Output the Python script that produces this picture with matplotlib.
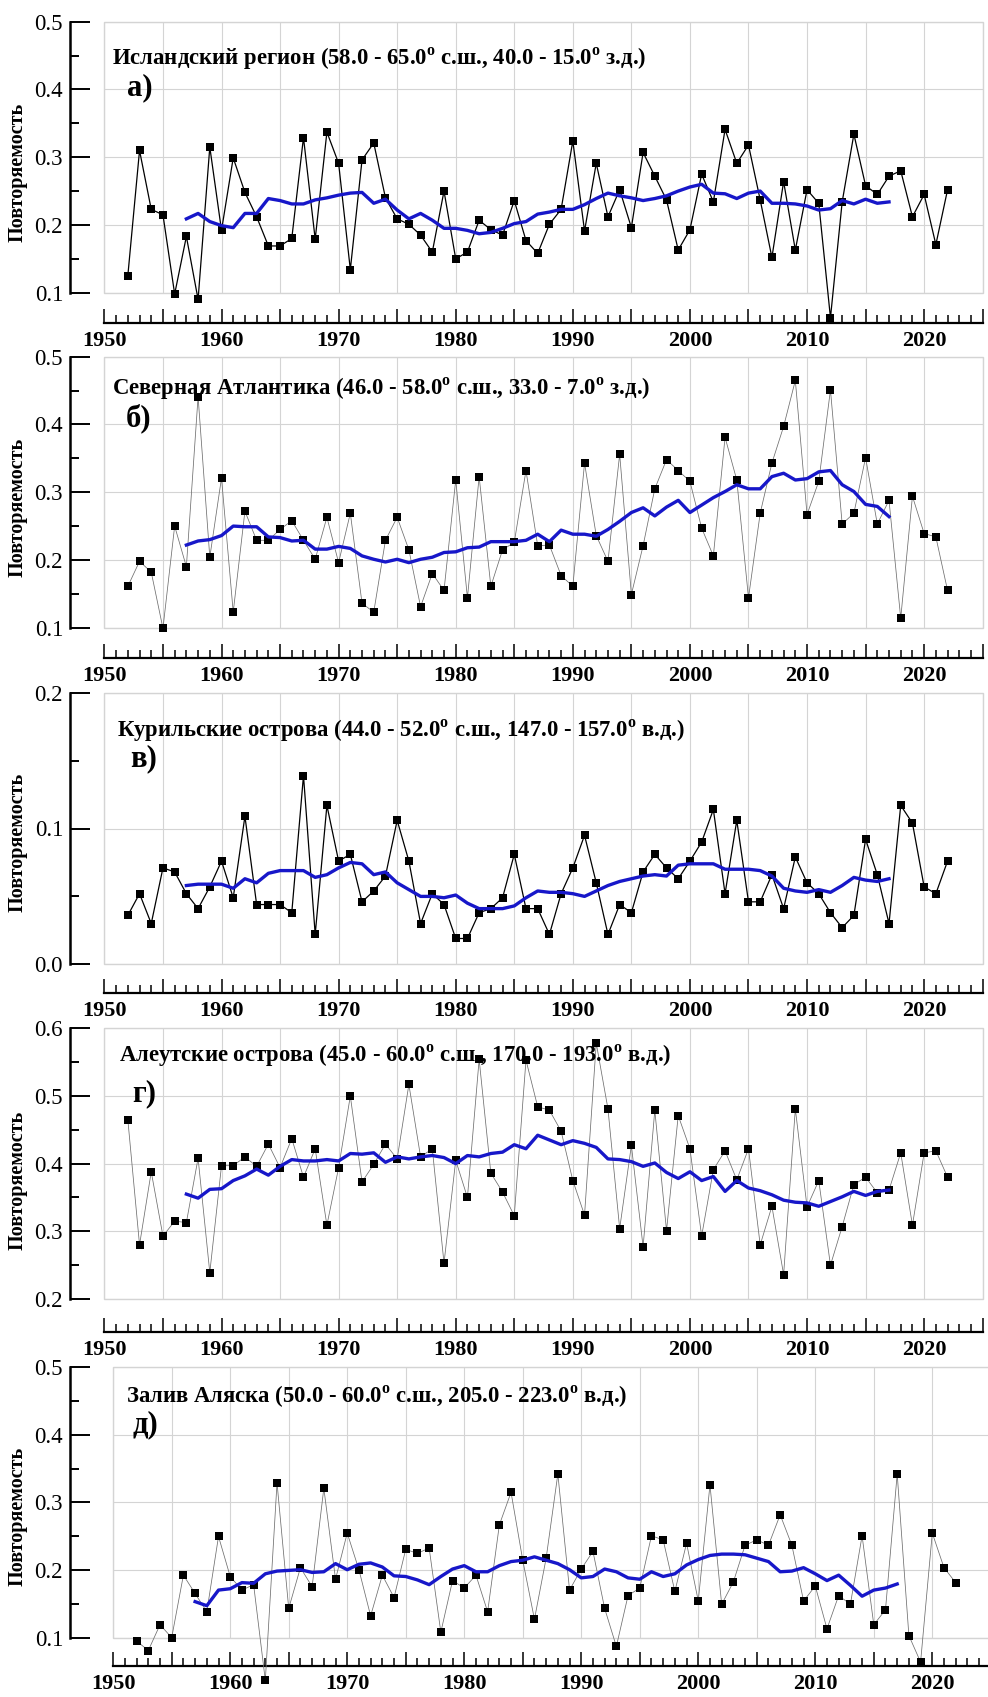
import numpy as np
import matplotlib
matplotlib.use("Agg")
import matplotlib.pyplot as plt
from matplotlib.ticker import MultipleLocator, FuncFormatter
from matplotlib.patches import Rectangle

plt.rcParams['font.family'] = ['Liberation Serif', 'DejaVu Serif']
plt.rcParams['mathtext.fontset'] = 'custom'
plt.rcParams['mathtext.rm'] = 'Liberation Serif'
plt.rcParams['mathtext.bf'] = 'Liberation Serif:bold'

years = np.arange(1952, 2023)
smooth_years = np.arange(1957, 2018)

iceland = [0.125, 0.310, 0.223, 0.215, 0.098, 0.183, 0.090, 0.315, 0.192, 0.299,
           0.248, 0.212, 0.169, 0.169, 0.180, 0.329, 0.179, 0.337, 0.291, 0.134,
           0.296, 0.321, 0.240, 0.209, 0.201, 0.185, 0.160, 0.250, 0.150, 0.160,
           0.207, 0.193, 0.185, 0.236, 0.177, 0.158, 0.201, 0.223, 0.324, 0.191,
           0.291, 0.212, 0.252, 0.196, 0.307, 0.272, 0.237, 0.163, 0.193, 0.275,
           0.234, 0.341, 0.291, 0.318, 0.237, 0.152, 0.264, 0.163, 0.252, 0.232,
           0.063, 0.234, 0.334, 0.258, 0.245, 0.272, 0.280, 0.212, 0.245, 0.171,
           0.252]
iceland_smooth = [0.209, 0.217, 0.205, 0.199, 0.196, 0.217, 0.217, 0.239, 0.236, 0.231,
                  0.231, 0.237, 0.240, 0.244, 0.247, 0.248, 0.232, 0.238, 0.222, 0.209,
                  0.217, 0.207, 0.195, 0.195, 0.192, 0.187, 0.189, 0.195, 0.202, 0.205,
                  0.216, 0.219, 0.223, 0.223, 0.230, 0.239, 0.247, 0.243, 0.240, 0.236,
                  0.239, 0.243, 0.250, 0.256, 0.260, 0.247, 0.246, 0.239, 0.247, 0.250,
                  0.232, 0.232, 0.231, 0.228, 0.222, 0.224, 0.236, 0.231, 0.238, 0.232,
                  0.234]

natl = [0.161, 0.198, 0.182, 0.099, 0.250, 0.190, 0.441, 0.204, 0.321, 0.123,
        0.272, 0.229, 0.229, 0.245, 0.258, 0.229, 0.201, 0.263, 0.196, 0.269,
        0.136, 0.123, 0.229, 0.263, 0.215, 0.131, 0.180, 0.155, 0.318, 0.144,
        0.323, 0.161, 0.215, 0.226, 0.332, 0.221, 0.222, 0.177, 0.161, 0.343,
        0.236, 0.198, 0.356, 0.149, 0.221, 0.305, 0.348, 0.332, 0.316, 0.247,
        0.206, 0.381, 0.318, 0.144, 0.269, 0.343, 0.397, 0.465, 0.267, 0.316,
        0.451, 0.253, 0.269, 0.351, 0.253, 0.288, 0.114, 0.294, 0.239, 0.234,
        0.155]
natl_smooth = [0.222, 0.228, 0.230, 0.236, 0.250, 0.249, 0.249, 0.234, 0.233, 0.228,
               0.229, 0.216, 0.216, 0.220, 0.217, 0.206, 0.201, 0.197, 0.201, 0.196,
               0.201, 0.204, 0.211, 0.212, 0.218, 0.219, 0.227, 0.227, 0.227, 0.229,
               0.238, 0.227, 0.244, 0.238, 0.238, 0.235, 0.245, 0.257, 0.270, 0.277,
               0.265, 0.278, 0.288, 0.270, 0.281, 0.292, 0.301, 0.311, 0.305, 0.305,
               0.323, 0.328, 0.318, 0.320, 0.330, 0.332, 0.311, 0.301, 0.282, 0.279,
               0.264]

kuril = [0.036, 0.052, 0.030, 0.071, 0.068, 0.052, 0.041, 0.057, 0.076, 0.049,
         0.109, 0.044, 0.044, 0.044, 0.038, 0.139, 0.022, 0.117, 0.076, 0.081,
         0.046, 0.054, 0.065, 0.106, 0.076, 0.030, 0.052, 0.044, 0.019, 0.019,
         0.038, 0.041, 0.049, 0.081, 0.041, 0.041, 0.022, 0.052, 0.071, 0.095,
         0.060, 0.022, 0.044, 0.038, 0.068, 0.081, 0.071, 0.063, 0.076, 0.090,
         0.114, 0.052, 0.106, 0.046, 0.046, 0.066, 0.041, 0.079, 0.060, 0.052,
         0.038, 0.027, 0.036, 0.092, 0.066, 0.030, 0.117, 0.104, 0.057, 0.052,
         0.076]
kuril_smooth = [0.058, 0.059, 0.059, 0.059, 0.056, 0.063, 0.060, 0.067, 0.069, 0.069,
                0.069, 0.064, 0.066, 0.071, 0.075, 0.074, 0.066, 0.068, 0.060, 0.055,
                0.050, 0.050, 0.049, 0.051, 0.045, 0.041, 0.041, 0.041, 0.043, 0.049,
                0.054, 0.053, 0.053, 0.052, 0.050, 0.054, 0.058, 0.061, 0.063, 0.065,
                0.066, 0.065, 0.073, 0.074, 0.074, 0.074, 0.070, 0.070, 0.070, 0.069,
                0.065, 0.056, 0.054, 0.053, 0.055, 0.053, 0.058, 0.064, 0.062, 0.061,
                0.063]

aleut = [0.465, 0.280, 0.388, 0.293, 0.315, 0.313, 0.408, 0.239, 0.397, 0.397,
         0.410, 0.396, 0.429, 0.394, 0.437, 0.380, 0.422, 0.309, 0.394, 0.500,
         0.373, 0.399, 0.429, 0.407, 0.517, 0.410, 0.422, 0.253, 0.405, 0.350,
         0.554, 0.386, 0.358, 0.323, 0.553, 0.484, 0.479, 0.448, 0.375, 0.324,
         0.578, 0.481, 0.304, 0.427, 0.277, 0.479, 0.301, 0.471, 0.422, 0.293,
         0.391, 0.419, 0.376, 0.422, 0.280, 0.337, 0.236, 0.481, 0.336, 0.375,
         0.250, 0.307, 0.369, 0.380, 0.357, 0.361, 0.416, 0.309, 0.416, 0.419,
         0.380]
aleut_smooth = [0.355, 0.349, 0.362, 0.363, 0.375, 0.382, 0.392, 0.383, 0.396, 0.406,
                0.404, 0.404, 0.406, 0.404, 0.415, 0.414, 0.416, 0.402, 0.410, 0.407,
                0.410, 0.412, 0.409, 0.400, 0.412, 0.410, 0.415, 0.417, 0.428, 0.422,
                0.442, 0.435, 0.428, 0.434, 0.430, 0.424, 0.407, 0.406, 0.403, 0.396,
                0.401, 0.387, 0.378, 0.388, 0.375, 0.381, 0.359, 0.375, 0.364, 0.360,
                0.354, 0.346, 0.343, 0.342, 0.337, 0.344, 0.351, 0.359, 0.353, 0.359,
                0.361]

alaska = [0.096, 0.082, 0.120, 0.101, 0.193, 0.166, 0.139, 0.250, 0.191, 0.171,
          0.179, 0.038, 0.329, 0.144, 0.204, 0.176, 0.321, 0.187, 0.255, 0.201,
          0.133, 0.193, 0.160, 0.231, 0.225, 0.233, 0.109, 0.185, 0.174, 0.193,
          0.139, 0.267, 0.315, 0.215, 0.128, 0.218, 0.342, 0.171, 0.202, 0.228,
          0.144, 0.088, 0.163, 0.174, 0.251, 0.245, 0.169, 0.240, 0.155, 0.326,
          0.150, 0.183, 0.237, 0.245, 0.237, 0.282, 0.237, 0.155, 0.177, 0.114,
          0.163, 0.150, 0.251, 0.120, 0.142, 0.342, 0.104, 0.065, 0.255, 0.204,
          0.182]
alaska_smooth = [0.154, 0.148, 0.171, 0.173, 0.182, 0.181, 0.195, 0.199, 0.200, 0.201,
                 0.197, 0.198, 0.210, 0.201, 0.209, 0.211, 0.205, 0.192, 0.191, 0.186,
                 0.179, 0.191, 0.202, 0.207, 0.198, 0.198, 0.207, 0.213, 0.215, 0.220,
                 0.215, 0.210, 0.201, 0.189, 0.191, 0.202, 0.198, 0.189, 0.187, 0.198,
                 0.191, 0.195, 0.208, 0.216, 0.222, 0.224, 0.224, 0.223, 0.218, 0.213,
                 0.198, 0.199, 0.204, 0.195, 0.185, 0.193, 0.178, 0.162, 0.171, 0.174,
                 0.180]

titles = [
    r"Исландский регион (58.0 - 65.0$^{\mathbf{o}}$ с.ш., 40.0 - 15.0$^{\mathbf{o}}$ з.д.)",
    r"Северная Атлантика (46.0 - 58.0$^{\mathbf{o}}$ с.ш., 33.0 - 7.0$^{\mathbf{o}}$ з.д.)",
    r"Курильские острова (44.0 - 52.0$^{\mathbf{o}}$ с.ш., 147.0 - 157.0$^{\mathbf{o}}$ в.д.)",
    r"Алеутские острова (45.0 - 60.0$^{\mathbf{o}}$ с.ш., 170.0 - 193.0$^{\mathbf{o}}$ в.д.)",
    r"Залив Аляска (50.0 - 60.0$^{\mathbf{o}}$ с.ш., 205.0 - 223.0$^{\mathbf{o}}$ в.д.)",
]
letters = ["а)", "б)", "в)", "г)", "д)"]
ylims = [(0.1, 0.5), (0.1, 0.5), (0.0, 0.2), (0.2, 0.6), (0.1, 0.5)]
series = [iceland, natl, kuril, aleut, alaska]
smooths = [iceland_smooth, natl_smooth, kuril_smooth, aleut_smooth, alaska_smooth]
ylabel = "Повторяемость"

W, H = 988, 1697
fig = plt.figure(figsize=(W / 100, H / 100), dpi=100)

# panel geometry in pixels: frame left/right, top/bottom, x-axis offset, y-axis x,
# title baseline position and letter position
frames = [
    dict(l=104.4, r=982.7, t=21.7, b=292.7, xoff=30.3, yx=70, line='black', lw=0.9,
         tx=112, ty=65, lx=127, ly=88),
    dict(l=104.4, r=982.7, t=356.7, b=627.7, xoff=30.3, yx=70, line='#6e6e6e', lw=0.55,
         tx=112, ty=395, lx=126, ly=418),
    dict(l=104.4, r=982.7, t=692.7, b=964.3, xoff=28.7, yx=70, line='black', lw=0.9,
         tx=117, ty=737, lx=130, ly=759),
    dict(l=104.4, r=982.7, t=1028.3, b=1299.0, xoff=32.7, yx=70, line='#6e6e6e', lw=0.55,
         tx=119, ty=1062, lx=132, ly=1094),
    dict(l=113.2, r=990.8, t=1366.7, b=1638.3, xoff=27.7, yx=70, line='#6e6e6e', lw=0.55,
         tx=126, ty=1403, lx=132, ly=1425),
]

px2pt = 72 / 100
blue = '#1717c9'
grid_c = '#d4d4d4'

for i, g in enumerate(frames):
    ax = fig.add_axes([g['l'] / W, 1 - g['b'] / H, (g['r'] - g['l']) / W, (g['b'] - g['t']) / H])
    ax.set_xlim(1950, 2025)
    ax.set_ylim(*ylims[i])
    ax.patch.set_alpha(0)

    for s in ('top', 'right'):
        ax.spines[s].set_visible(False)
    ax.spines['left'].set_position(('outward', (g['l'] - g['yx']) * px2pt))
    ax.spines['bottom'].set_position(('outward', g['xoff'] * px2pt))
    ax.spines['left'].set_linewidth(1.8)
    ax.spines['bottom'].set_linewidth(1.6)

    # light frame around the plotting area
    ax.add_patch(Rectangle((0, 0), 1, 1, transform=ax.transAxes, fill=False,
                           edgecolor=grid_c, linewidth=1.0, clip_on=False, zorder=0))

    ax.xaxis.set_major_locator(MultipleLocator(5))
    ax.xaxis.set_minor_locator(MultipleLocator(1))
    ax.xaxis.set_major_formatter(FuncFormatter(lambda v, p: f"{int(round(v))}" if round(v) % 10 == 0 else ""))
    ax.yaxis.set_major_locator(MultipleLocator(0.1))
    ax.yaxis.set_minor_locator(MultipleLocator(0.05))
    ax.yaxis.set_major_formatter(FuncFormatter(lambda v, p: f"{v:.1f}"))

    ax.tick_params(axis='x', which='major', direction='in', length=10, width=1.1, pad=6,
                   labelsize=16)
    ax.tick_params(axis='x', which='minor', direction='in', length=6, width=1.1)
    ax.tick_params(axis='y', which='major', direction='in', length=14.5, width=1.4, pad=5,
                   labelsize=16.5)
    ax.tick_params(axis='y', which='minor', direction='in', length=6.8, width=1.4)
    for lab in ax.get_xticklabels():
        lab.set_fontweight('bold')

    ax.grid(True, which='major', color=grid_c, linewidth=0.8)
    ax.set_axisbelow(True)

    ax.plot(years, series[i], color=g['line'], linewidth=g['lw'], marker='s',
            markersize=5.4, markerfacecolor='black', markeredgecolor='black',
            markeredgewidth=0, clip_on=False, zorder=3)
    ax.plot(smooth_years, smooths[i], color=blue, linewidth=2.4, clip_on=False, zorder=4)

    fig.text(g['tx'] / W, 1 - g['ty'] / H, titles[i], fontsize=16.4, fontweight='bold',
             ha='left', va='baseline', zorder=1)
    fig.text(g['lx'] / W, 1 - g['ly'] / H, letters[i], fontsize=22, fontweight='bold',
             ha='left', va='center', zorder=1)

    axis_y = g['b'] + g['xoff']
    fig.text(18 / W, 1 - ((g['t'] + axis_y) / 2) / H, ylabel, rotation=90,
             fontsize=14.5, fontweight='bold', ha='center', va='center')

fig.savefig("out.png", dpi=100)
